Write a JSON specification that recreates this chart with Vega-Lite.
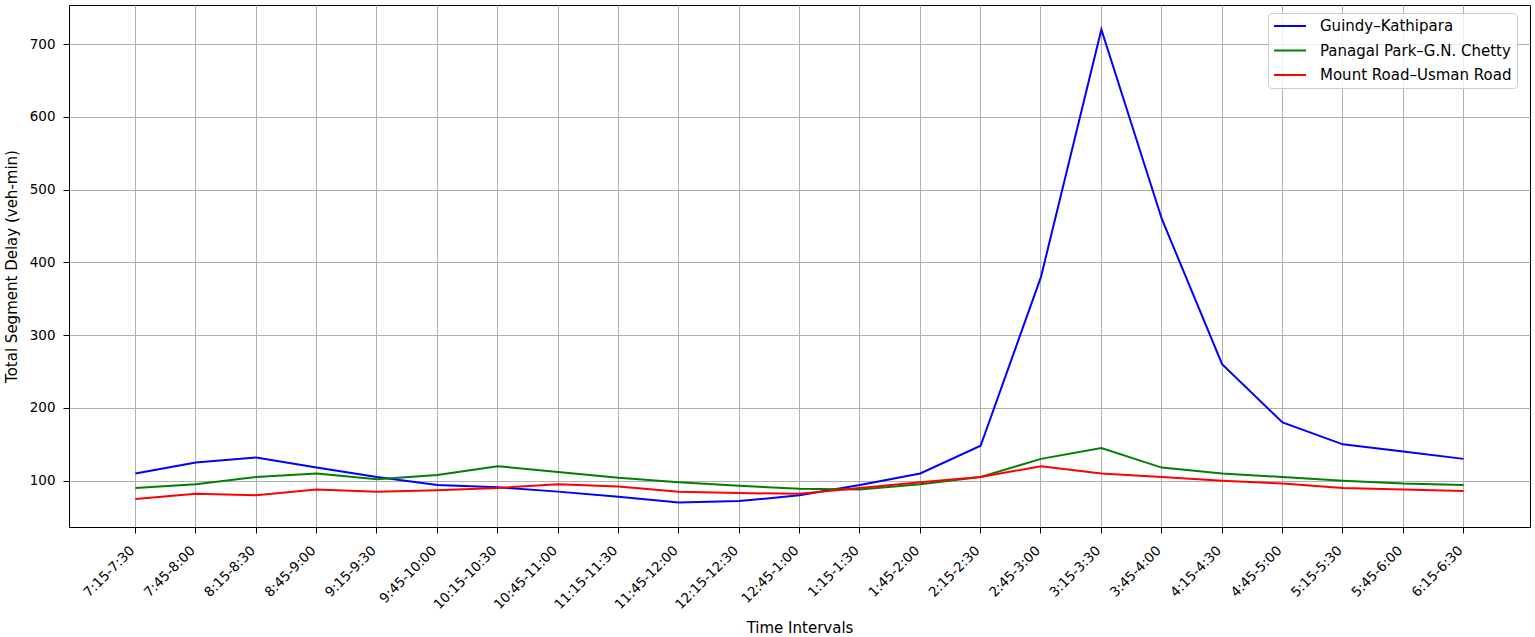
{
  "$schema": "https://vega.github.io/schema/vega-lite/v6.json",
  "autosize": {"type": "none"},
  "padding": {"left": 69, "top": 5, "right": 5, "bottom": 110},
  "width": 1461,
  "height": 522,
  "background": "white",
  "data": {"values": [
    {"time": "7:15-7:30", "route": "Guindy–Kathipara", "delay": 110},
    {"time": "7:45-8:00", "route": "Guindy–Kathipara", "delay": 125},
    {"time": "8:15-8:30", "route": "Guindy–Kathipara", "delay": 132},
    {"time": "8:45-9:00", "route": "Guindy–Kathipara", "delay": 118},
    {"time": "9:15-9:30", "route": "Guindy–Kathipara", "delay": 105},
    {"time": "9:45-10:00", "route": "Guindy–Kathipara", "delay": 94},
    {"time": "10:15-10:30", "route": "Guindy–Kathipara", "delay": 91},
    {"time": "10:45-11:00", "route": "Guindy–Kathipara", "delay": 85},
    {"time": "11:15-11:30", "route": "Guindy–Kathipara", "delay": 78},
    {"time": "11:45-12:00", "route": "Guindy–Kathipara", "delay": 70},
    {"time": "12:15-12:30", "route": "Guindy–Kathipara", "delay": 72},
    {"time": "12:45-1:00", "route": "Guindy–Kathipara", "delay": 80},
    {"time": "1:15-1:30", "route": "Guindy–Kathipara", "delay": 94},
    {"time": "1:45-2:00", "route": "Guindy–Kathipara", "delay": 110},
    {"time": "2:15-2:30", "route": "Guindy–Kathipara", "delay": 148},
    {"time": "2:45-3:00", "route": "Guindy–Kathipara", "delay": 380},
    {"time": "3:15-3:30", "route": "Guindy–Kathipara", "delay": 720},
    {"time": "3:45-4:00", "route": "Guindy–Kathipara", "delay": 460},
    {"time": "4:15-4:30", "route": "Guindy–Kathipara", "delay": 260},
    {"time": "4:45-5:00", "route": "Guindy–Kathipara", "delay": 180},
    {"time": "5:15-5:30", "route": "Guindy–Kathipara", "delay": 150},
    {"time": "5:45-6:00", "route": "Guindy–Kathipara", "delay": 140},
    {"time": "6:15-6:30", "route": "Guindy–Kathipara", "delay": 130},
    {"time": "7:15-7:30", "route": "Panagal Park–G.N. Chetty", "delay": 90},
    {"time": "7:45-8:00", "route": "Panagal Park–G.N. Chetty", "delay": 95},
    {"time": "8:15-8:30", "route": "Panagal Park–G.N. Chetty", "delay": 105},
    {"time": "8:45-9:00", "route": "Panagal Park–G.N. Chetty", "delay": 110},
    {"time": "9:15-9:30", "route": "Panagal Park–G.N. Chetty", "delay": 102},
    {"time": "9:45-10:00", "route": "Panagal Park–G.N. Chetty", "delay": 108},
    {"time": "10:15-10:30", "route": "Panagal Park–G.N. Chetty", "delay": 120},
    {"time": "10:45-11:00", "route": "Panagal Park–G.N. Chetty", "delay": 112},
    {"time": "11:15-11:30", "route": "Panagal Park–G.N. Chetty", "delay": 104},
    {"time": "11:45-12:00", "route": "Panagal Park–G.N. Chetty", "delay": 98},
    {"time": "12:15-12:30", "route": "Panagal Park–G.N. Chetty", "delay": 93},
    {"time": "12:45-1:00", "route": "Panagal Park–G.N. Chetty", "delay": 89},
    {"time": "1:15-1:30", "route": "Panagal Park–G.N. Chetty", "delay": 88},
    {"time": "1:45-2:00", "route": "Panagal Park–G.N. Chetty", "delay": 95},
    {"time": "2:15-2:30", "route": "Panagal Park–G.N. Chetty", "delay": 105},
    {"time": "2:45-3:00", "route": "Panagal Park–G.N. Chetty", "delay": 130},
    {"time": "3:15-3:30", "route": "Panagal Park–G.N. Chetty", "delay": 145},
    {"time": "3:45-4:00", "route": "Panagal Park–G.N. Chetty", "delay": 118},
    {"time": "4:15-4:30", "route": "Panagal Park–G.N. Chetty", "delay": 110},
    {"time": "4:45-5:00", "route": "Panagal Park–G.N. Chetty", "delay": 105},
    {"time": "5:15-5:30", "route": "Panagal Park–G.N. Chetty", "delay": 100},
    {"time": "5:45-6:00", "route": "Panagal Park–G.N. Chetty", "delay": 96},
    {"time": "6:15-6:30", "route": "Panagal Park–G.N. Chetty", "delay": 94},
    {"time": "7:15-7:30", "route": "Mount Road–Usman Road", "delay": 75},
    {"time": "7:45-8:00", "route": "Mount Road–Usman Road", "delay": 82},
    {"time": "8:15-8:30", "route": "Mount Road–Usman Road", "delay": 80},
    {"time": "8:45-9:00", "route": "Mount Road–Usman Road", "delay": 88},
    {"time": "9:15-9:30", "route": "Mount Road–Usman Road", "delay": 85},
    {"time": "9:45-10:00", "route": "Mount Road–Usman Road", "delay": 87},
    {"time": "10:15-10:30", "route": "Mount Road–Usman Road", "delay": 90},
    {"time": "10:45-11:00", "route": "Mount Road–Usman Road", "delay": 95},
    {"time": "11:15-11:30", "route": "Mount Road–Usman Road", "delay": 92},
    {"time": "11:45-12:00", "route": "Mount Road–Usman Road", "delay": 85},
    {"time": "12:15-12:30", "route": "Mount Road–Usman Road", "delay": 83},
    {"time": "12:45-1:00", "route": "Mount Road–Usman Road", "delay": 82},
    {"time": "1:15-1:30", "route": "Mount Road–Usman Road", "delay": 90},
    {"time": "1:45-2:00", "route": "Mount Road–Usman Road", "delay": 98},
    {"time": "2:15-2:30", "route": "Mount Road–Usman Road", "delay": 105},
    {"time": "2:45-3:00", "route": "Mount Road–Usman Road", "delay": 120},
    {"time": "3:15-3:30", "route": "Mount Road–Usman Road", "delay": 110},
    {"time": "3:45-4:00", "route": "Mount Road–Usman Road", "delay": 105},
    {"time": "4:15-4:30", "route": "Mount Road–Usman Road", "delay": 100},
    {"time": "4:45-5:00", "route": "Mount Road–Usman Road", "delay": 96},
    {"time": "5:15-5:30", "route": "Mount Road–Usman Road", "delay": 90},
    {"time": "5:45-6:00", "route": "Mount Road–Usman Road", "delay": 88},
    {"time": "6:15-6:30", "route": "Mount Road–Usman Road", "delay": 86}
  ]},
  "mark": {"type": "line", "strokeWidth": 2},
  "encoding": {
    "x": {
      "field": "time",
      "type": "ordinal",
      "sort": null,
      "bandPosition": 0.5,
      "scale": {"type": "band", "paddingInner": 0, "paddingOuter": 0.6, "round": false},
      "axis": {
        "title": "Time Intervals",
        "bandPosition": 0.5,
        "labelAngle": -45,
        "labelAlign": "right",
        "labelBaseline": "alphabetic",
        "labelPadding": 18,
        "titlePadding": 9
      }
    },
    "y": {
      "field": "delay",
      "type": "quantitative",
      "scale": {"domain": [36.4, 753.6], "nice": false, "zero": false},
      "axis": {
        "title": "Total Segment Delay (veh-min)",
        "values": [100, 200, 300, 400, 500, 600, 700],
        "labelPadding": 8,
        "titlePadding": 10
      }
    },
    "color": {
      "field": "route",
      "type": "nominal",
      "sort": null,
      "scale": {
        "domain": ["Guindy–Kathipara", "Panagal Park–G.N. Chetty", "Mount Road–Usman Road"],
        "range": ["#0000ff", "#008000", "#ff0000"]
      },
      "legend": {
        "title": null,
        "orient": "none",
        "legendX": 1199,
        "legendY": 8,
        "symbolType": "M-1,0H3.571",
        "symbolSize": 196,
        "symbolStrokeWidth": 2,
        "labelFontSize": 15,
        "labelOffset": 31,
        "rowPadding": 8.5,
        "padding": 5,
        "fillColor": "rgba(255,255,255,0.8)",
        "strokeColor": "#cccccc",
        "cornerRadius": 4,
        "labelLimit": 400
      }
    }
  },
  "config": {
    "font": "DejaVu Sans",
    "view": {"stroke": "black", "strokeWidth": 1},
    "axis": {
      "labelFontSize": 13.5,
      "titleFontSize": 15,
      "titleFontWeight": "normal",
      "labelColor": "black",
      "titleColor": "black",
      "tickColor": "black",
      "domainColor": "black",
      "tickSize": 6,
      "grid": true,
      "gridColor": "#b0b0b0",
      "gridWidth": 1,
      "gridOpacity": 1
    },
    "legend": {"labelColor": "black", "labelFont": "DejaVu Sans"}
  }
}
